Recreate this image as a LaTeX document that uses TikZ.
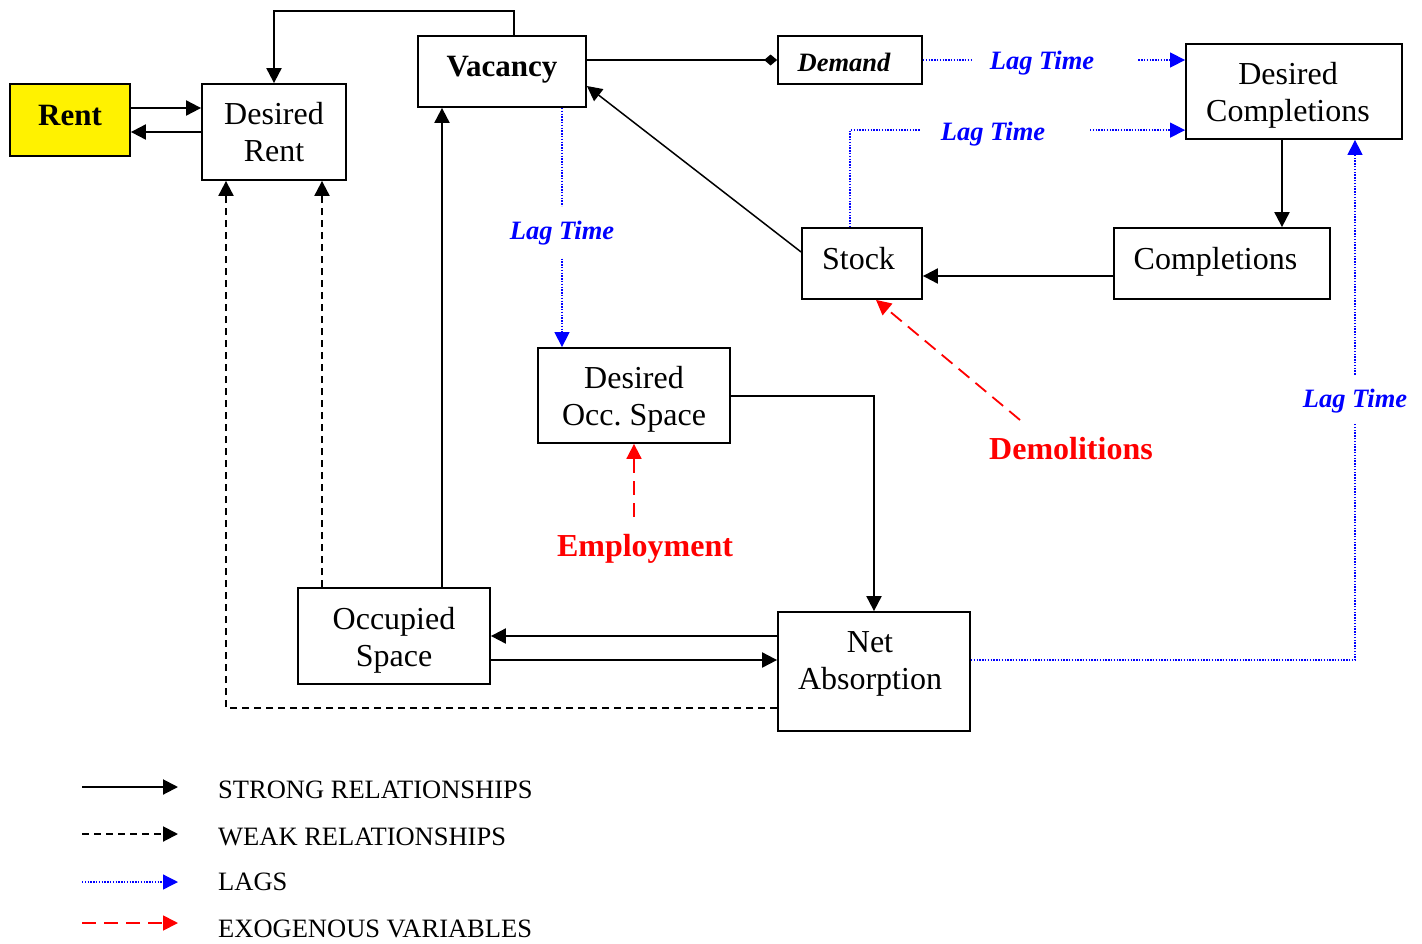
\documentclass[tikz,border=0pt]{standalone}
\usepackage{fontspec}
\setmainfont{Liberation Serif}
\usetikzlibrary{arrows.meta}

\begin{document}
\begin{tikzpicture}[x=1pt,y=-1pt,
  box/.style={draw,line width=1.8pt,inner sep=0pt},
  txt/.style={font=\fontsize{32}{37}\selectfont,align=center},
  btxt/.style={font=\fontsize{31}{37}\selectfont\bfseries,align=center},
  lag/.style={text=blue,inner sep=0pt,font=\fontsize{26.5}{30}\selectfont\bfseries\itshape},
  exotxt/.style={text=red,inner sep=0pt,font=\fontsize{32}{37}\selectfont\bfseries},
  legtxt/.style={anchor=west,inner sep=0pt,font=\fontsize{26.5}{30}\selectfont},
  headtip/.style={-{Triangle[length=15pt,width=15pt]}},
  strong/.style={line width=2pt,headtip},
  weak/.style={line width=2pt,dash pattern=on 7pt off 5pt,headtip},
  lagline/.style={blue,line width=1.3pt,dash pattern=on 1.4pt off 1.4pt},
  lagarrow/.style={lagline,headtip},
  exo/.style={red,line width=1.8pt,dash pattern=on 14pt off 8pt,headtip}]
\useasboundingbox (0,0) rectangle (1422,943);
\node[box,fill=yellow,minimum width=120,minimum height=72,label={[btxt,yshift=5]center:Rent}] (rent) at (70,120) {};
\node[box,minimum width=144,minimum height=96,label={[txt]center:Desired\\Rent}] (drent) at (274,132) {};
\node[box,minimum width=168,minimum height=71,label={[btxt,yshift=1.5]center:Vacancy}] (vac) at (502,71.5) {};
\node[box,minimum width=144,minimum height=48,label={[font=\fontsize{26.5}{30}\selectfont\bfseries\itshape,xshift=-6,yshift=-2]center:Demand}] (demand) at (850,60) {};
\node[box,minimum width=216,minimum height=95,label={[txt,xshift=-6,yshift=-4]center:Desired\\Completions}] (dcomp) at (1294,91.5) {};
\node[box,minimum width=120,minimum height=71,label={[txt,xshift=-3.5,yshift=4.5]center:Stock}] (stock) at (862,263.5) {};
\node[box,minimum width=216,minimum height=71,label={[txt,xshift=-6.5,yshift=2]center:Completions}] (comp) at (1222,263.5) {};
\node[box,minimum width=192,minimum height=95,label={[txt,yshift=-4]center:Desired\\Occ.\ Space}] (docc) at (634,395.5) {};
\node[box,minimum width=192,minimum height=96,label={[txt,yshift=-4]center:Occupied\\Space}] (occ) at (394,636) {};
\node[box,minimum width=192,minimum height=119,label={[txt,xshift=-4,yshift=7.5]center:Net\\Absorption}] (netabs) at (874,671.5) {};
\node[lag] (lag1) at (1042,63.5) {Lag Time};
\node[lag] (lag2) at (993,134.5) {Lag Time};
\node[lag] (lag3) at (562,233.5) {Lag Time};
\node[lag] (lag4) at (1355,401.5) {Lag Time};
\node[exotxt] (demol) at (1071,449) {Demolitions};
\node[exotxt] (emp) at (645,549) {Employment};
\draw[strong] ([yshift=12]rent.east) coordinate (r1) -- (r1 -| drent.west);
\draw[strong] ([yshift=-12]rent.east) coordinate (r2) (r2 -| drent.west) -- (r2);
\draw[strong] ([xshift=12]vac.north) -- ++(0,-24) -| (drent.north);
\draw[line width=2pt,-{Diamond[length=13pt,width=11pt]}] (demand.west -| vac.east) -- (demand.west);
\draw[lagline] (demand.east) -- ++(48,0);
\draw[lagarrow] ([xshift=44]lag1.east |- demand.east) -- (demand.east -| dcomp.west);
\draw[lagline] ([xshift=-12]stock.north) -- ++(0,-97) -- ++(70,0) coordinate (s1);
\draw[lagarrow] (s1) ++(170,0) -- (s1 -| dcomp.west);
\draw[strong] ([xshift=-12]dcomp.south) coordinate (d1) -- (d1 |- comp.north);
\draw[strong] ([yshift=-12.5]comp.west) -- ([yshift=-12.5]stock.east);
\draw[line width=1.5pt,headtip] ([yshift=11.5]stock.west) -- ([yshift=-14.5]vac.east);
\draw[lagline] ([xshift=60]vac.south) -- ++(0,98);
\draw[lagarrow] ([yshift=-25]lag3.center) -- (lag3.center |- docc.north);
\draw[lagline] ([yshift=11.5]netabs.east) -| ([yshift=-22]lag4.center);
\draw[lagarrow] ([yshift=27]lag4.center) -- (lag4.center |- dcomp.south);
\draw[exo] ([xshift=-51,yshift=29]demol.center) -- ([xshift=14]stock.south);
\draw[exo] ([yshift=-73]docc.south) -- (docc.south);
\draw[strong] (docc.east) -| (netabs.north);
\draw[strong] (occ.east -| netabs.west) -- (occ.east);
\draw[strong] ([yshift=-24]occ.east) coordinate (o2) -- (o2 -| netabs.west);
\draw[strong] ([xshift=48]occ.north) coordinate (o3) -- (o3 |- vac.south);
\draw[weak] ([xshift=-72]occ.north) coordinate (o4) -- (o4 |- drent.south);
\draw[weak] ([yshift=-36.5]netabs.west) -| ([xshift=-48]drent.south);
\node[legtxt] (leg1) at (218,790) {STRONG RELATIONSHIPS};
\node[legtxt] (leg2) at (218,837) {WEAK RELATIONSHIPS};
\node[legtxt] (leg3) at (218,882) {LAGS};
\node[legtxt] (leg4) at (218,929) {EXOGENOUS VARIABLES};
\draw[strong] ([xshift=-136,yshift=3]leg1.west) -- ([xshift=-40,yshift=3]leg1.west);
\draw[weak] ([xshift=-136,yshift=3]leg2.west) -- ([xshift=-40,yshift=3]leg2.west);
\draw[lagarrow] ([xshift=-136]leg3.west) -- ([xshift=-40]leg3.west);
\draw[exo] ([xshift=-136,yshift=6]leg4.west) -- ([xshift=-40,yshift=6]leg4.west);
\end{tikzpicture}
\end{document}
